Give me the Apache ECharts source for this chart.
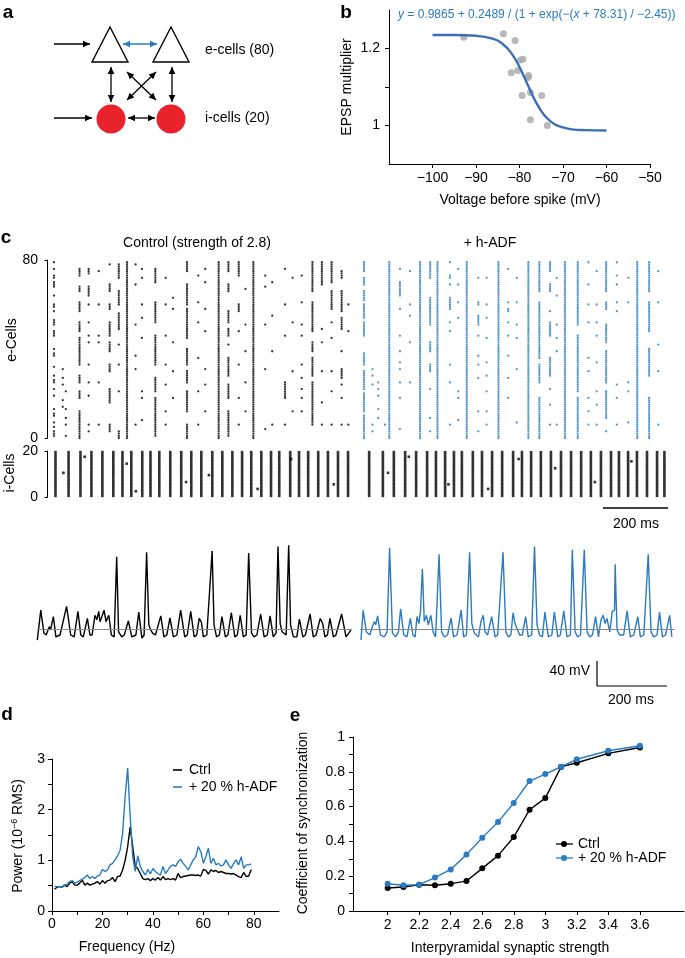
<!DOCTYPE html>
<html>
<head>
<meta charset="utf-8">
<title>h-ADF network figure</title>
<script src="https://cdn.jsdelivr.net/npm/echarts@6/dist/echarts.min.js"></script>
<style>
  html, body { margin: 0; padding: 0; background: #fff; }
  #chart { width: 685px; height: 958px; }
</style>
</head>
<body>
<div id="chart"></div>
<script>
// ---- panel b: EPSP multiplier vs voltage before spike
const bDots = [[-92.8, 1.229], [-83.7, 1.238], [-81.0, 1.221], [-81.9, 1.137], [-80.4, 1.143],
  [-79.8, 1.170], [-79.2, 1.172], [-77.9, 1.130], [-78.0, 1.125], [-79.4, 1.078],
  [-77.5, 1.086], [-74.9, 1.078], [-77.5, 1.015], [-73.6, 1.000]];
const bFitV = [-100, -95, -90, -86, -84, -82, -80, -79, -78, -77, -76, -75, -74, -72, -70, -68, -65, -60];
const bFitY = [1.235, 1.235, 1.233, 1.225, 1.213, 1.190, 1.152, 1.128, 1.103, 1.078, 1.056, 1.038, 1.023, 1.004, 0.995, 0.990, 0.988, 0.987];
const bXTicks = [-100, -90, -80, -70, -60, -50];

// ---- panel c: e-cell raster, [time ms, cells]
const ctrlECells = [
  [21, '1-3,5,7,10,11,13,19,22,25,26,28,32,37,38,40,46-48,51-53,57,59,60,64,68-70,72,73,76,79'],
  [50, '14,17,24,27,31'], [60, '1,6,9,13,21'],
  [105, '0-12,18-21,25-28,33-45,48-52,57-61,66-68,73-76'],
  [135, '3,6,19,25,33,43,46,52,60,64-68,74-76'],
  [168, '6,25,43,46,60,75'],
  [204, '3-6,16-22,30-33,39-43,46-52,58-60,66-69,78'],
  [234, '0-3,21,33,42,49-56,60-66,72-78'],
  [261, '0-79'],
  [289, '6,31,37,51,69,78'], [310, '8,18,21,45,54,60,72,76'],
  [354, '1-18,21-27,33-46,52-61,70-76'],
  [388, '6,12,24,33,46,60,72'], [412, '18,30,43,58,63'],
  [458, '0-6,12-21,25-30,33-40,45-58,60-69,75-79'],
  [495, '6,21,36,52,61,73'], [518, '12,24,31,48,58,70,76'],
  [562, '0-79'],
  [594, '1-12,18-24,28-36,42,46-49,52-57,66-69,75-79'],
  [628, '6,18,33,48,57-60,73-79'], [650, '12,25,39,51,67'],
  [676, '0-79'],
  [715, '4,31,51,68,73'], [738, '6,39,55,70'],
  [780, '6,18-25,46,60,76'], [805, '12,30,52,72'],
  [835, '12,18,22,27,33,46,51,61,73'],
  [870, '6-25,28-36,39-43,48-61,66-79'],
  [901, '6,16,30,43,49,69-79'],
  [933, '6,21,30,45,52,58-66,70-79'],
  [966, '6,18,24,27-31,39,49-54,57-66,72-75'],
  [988, '6,48,60']
];
const adfECells = [
  [13, '0-10,12-20,22-30,33-38,46-52,54-60,62-66,69-72,75-79'],
  [41, '3,6,24,28,31'], [60, '9,13,19,22,25'], [82, '6'],
  [96, '0-79'],
  [131, '4,18,25,31,34,39,46,58,64-70,76'], [164, '25,43,55,60,75'],
  [197, '0-79'],
  [230, '3,9,22,30-33,39-43,51-63,72-79'],
  [254, '0-79'],
  [295, '6,25,33,48,52,58-63,69,72,73,79'], [322, '8,18,21,54,61,69,76'],
  [350, '0-79'],
  [388, '3,12,27,33,37,46,51-55,60,61,72'], [415, '6,12,21,28,34,45,54,60,72'],
  [454, '0-79'],
  [486, '18,27,37,46,52,57,58,61,76'], [514, '7,31,45,51,61,72'],
  [552, '0-79'],
  [588, '0-18,25-33,36-61,66-79'],
  [623, '6,15,22,28-36,46-52,57,66-69,75-79'], [645, '6,39,45,51,64,72'],
  [672, '0-79'],
  [714, '0-18,21-46,51-79'],
  [749, '6,12,18,30,36,52,60,69,79'], [776, '6,15,21,34,46,52,60,75'],
  [807, '3,9-21,25-39,43-51,58-61,66-79'],
  [842, '6,18,24,57,61,69,73,79'], [880, '7,21,25,61,72'],
  [909, '0-79'],
  [948, '0-18,28-40,48-61,66-79'],
  [978, '6,30,42,61,75']
];

// i-cell raster: volley times (all 20 cells) and stray spikes
const iCtrlTimes = [26, 69, 108, 144, 180, 216, 246, 275, 311, 338, 367, 403, 439, 472, 505, 541,
  574, 607, 639, 669, 702, 734, 761, 797, 826, 856, 889, 921, 954, 987];
const iCtrlStray = [[52, 10], [122, 17], [260, 14], [290, 2], [455, 6], [530, 9], [690, 3], [800, 16], [940, 5]];
const iAdfTimes = [30, 75, 111, 148, 184, 220, 249, 279, 308, 334, 370, 400, 433, 466, 502, 531,
  561, 593, 626, 659, 692, 725, 757, 790, 823, 849, 879, 908, 941, 974, 998];
const iAdfStray = [[92, 10], [160, 17], [290, 5], [420, 3], [520, 16], [640, 12], [770, 6], [890, 15]];

// membrane potential traces [ms, mV]
const ctrlTrace = [[1, -77], [12, -30], [22, -66], [29, -69], [39, -56], [43, -61], [52, -40], [60, -72],
  [73, -69], [94, -24], [107, -69], [118, -72], [130, -32], [139, -69], [147, -72], [160, -43], [168, -69],
  [175, -69], [184, -38], [190, -45], [196, -32], [200, -48], [206, -40], [213, -30], [219, -48], [228, -38],
  [236, -69], [245, -72], [253, 54], [259, -64], [269, -72], [277, -69], [290, -47], [301, -72], [314, -69],
  [323, -33], [333, -74], [340, -69], [348, 61], [355, -53], [361, -61], [367, -66], [376, -69], [393, -39],
  [403, -72], [412, -69], [422, -42], [433, -72], [444, -69], [456, -30], [469, -72], [477, -69], [488, -32],
  [499, -72], [507, -69], [515, -43], [522, -49], [528, -72], [539, -69], [556, 63], [562, -53], [570, -72],
  [579, -69], [587, -40], [598, -72], [606, -69], [617, -34], [628, -72], [636, -69], [645, -38], [655, -72],
  [664, -69], [672, 60], [681, -66], [689, -72], [698, -69], [710, -36], [721, -72], [731, -69], [740, -39],
  [750, -72], [759, -66], [765, 70], [772, -51], [778, -64], [791, -69], [799, 72], [805, -53], [814, -72],
  [825, -72], [833, -44], [844, -72], [852, -69], [867, -36], [877, -72], [886, -69], [899, -43], [907, -51],
  [914, -72], [922, -69], [930, -43], [941, -72], [949, -69], [967, -36], [981, -72], [990, -66], [996, -61]];
const adfTrace = [[3, -77], [10, -30], [20, -64], [31, -69], [39, -56], [46, -48], [50, -53], [56, -39],
  [65, -69], [77, -72], [86, -64], [94, 68], [103, -66], [113, -72], [122, -64], [129, -28], [139, -69],
  [149, -72], [160, -43], [168, -69], [175, -72], [181, -40], [187, -51], [192, -32], [198, 35], [204, -48],
  [211, -38], [217, -53], [225, -38], [232, -64], [240, -72], [251, 58], [259, -64], [268, -72], [278, -69],
  [289, -42], [297, -72], [308, -69], [321, -30], [329, -72], [338, -69], [348, 61], [355, -51], [363, -66],
  [376, -72], [384, -48], [391, -38], [397, -64], [405, -69], [418, -40], [429, -72], [437, -69], [454, 61],
  [463, -64], [471, -72], [479, -69], [486, -34], [492, -51], [498, -53], [507, -69], [515, -69], [526, -40],
  [534, -72], [545, -69], [554, 70], [562, -53], [570, -69], [579, -72], [587, -33], [598, -72], [609, -69],
  [617, -33], [628, -72], [636, -69], [647, -31], [657, -72], [668, -69], [674, 65], [683, -64], [691, -72],
  [700, -69], [712, 65], [721, -64], [729, -72], [738, -69], [748, -40], [757, -72], [765, -45], [772, -38],
  [778, -51], [784, -43], [793, -64], [801, -32], [808, -30], [810, 42], [816, -61], [824, -69], [837, -69],
  [848, -31], [858, -72], [869, -69], [882, -40], [890, -72], [901, -69], [915, 58], [924, -64], [932, -72],
  [943, -69], [951, -33], [960, -72], [970, -69], [983, -38], [990, -72]];

// ---- panel d: power spectra, 1..79 Hz
const dFreq = [1, 2, 3, 4, 5, 6, 7, 8, 9, 10, 11, 12, 13, 14, 15, 16, 17, 18, 19, 20, 21, 22, 23, 24, 25, 26,
  27, 28, 29, 30, 31, 32, 33, 34, 35, 36, 37, 38, 39, 40, 41, 42, 43, 44, 45, 46, 47, 48, 49, 50, 51, 52, 53,
  54, 55, 56, 57, 58, 59, 60, 61, 62, 63, 64, 65, 66, 67, 68, 69, 70, 71, 72, 73, 74, 75, 76, 77, 78, 79];
const dCtrl = [0.43, 0.47, 0.48, 0.47, 0.51, 0.48, 0.55, 0.58, 0.51, 0.51, 0.55, 0.61, 0.51, 0.55, 0.51, 0.53,
  0.55, 0.58, 0.53, 0.60, 0.55, 0.60, 0.61, 0.66, 0.58, 0.68, 0.69, 0.81, 1.00, 1.27, 1.66, 1.27, 0.88, 0.84,
  0.74, 0.64, 0.62, 0.64, 0.60, 0.64, 0.61, 0.66, 0.61, 0.68, 0.62, 0.64, 0.62, 0.64, 0.61, 0.74, 0.66, 0.68,
  0.69, 0.70, 0.71, 0.71, 0.70, 0.71, 0.69, 0.82, 0.80, 0.73, 0.81, 0.78, 0.80, 0.76, 0.78, 0.76, 0.74, 0.74,
  0.73, 0.74, 0.71, 0.68, 0.66, 0.76, 0.68, 0.69, 0.82];
const dAdf = [0.49, 0.48, 0.48, 0.48, 0.51, 0.53, 0.58, 0.60, 0.55, 0.57, 0.60, 0.63, 0.66, 0.71, 0.64, 0.68,
  0.64, 0.69, 0.71, 0.82, 0.78, 0.81, 0.91, 0.94, 1.01, 1.09, 1.20, 1.53, 2.26, 2.82, 1.86, 1.07, 0.78, 1.09,
  0.88, 0.78, 0.71, 0.82, 0.73, 0.84, 0.78, 0.74, 0.71, 0.88, 0.74, 0.81, 0.88, 0.91, 0.88, 0.97, 1.02, 0.94,
  0.88, 0.81, 0.91, 1.01, 1.07, 1.27, 1.17, 0.94, 1.07, 1.24, 0.94, 1.04, 0.91, 0.94, 0.89, 0.91, 1.01, 0.91,
  0.84, 0.94, 1.01, 0.91, 1.07, 0.84, 0.91, 0.91, 0.93];

// ---- panel e: synchronization vs synaptic strength
const eStrength = [2, 2.1, 2.2, 2.3, 2.4, 2.5, 2.6, 2.7, 2.8, 2.9, 3, 3.1, 3.2, 3.4, 3.6];
const eCtrl = [0.132, 0.138, 0.151, 0.148, 0.157, 0.172, 0.245, 0.318, 0.425, 0.582, 0.649, 0.828, 0.852, 0.906, 0.940];
const eAdf = [0.157, 0.148, 0.151, 0.192, 0.239, 0.324, 0.421, 0.511, 0.621, 0.747, 0.787, 0.829, 0.872, 0.921, 0.950];
const eCtrlErr = [0.005, 0.005, 0.004, 0.004, 0.005, 0.006, 0.008, 0.012, 0.010, 0.012, 0.012, 0.006, 0.005, 0.005, 0.004];
const eAdfErr = [0.005, 0.005, 0.004, 0.006, 0.008, 0.012, 0.014, 0.014, 0.014, 0.008, 0.006, 0.006, 0.006, 0.005, 0.005];
const eXTicks = [2, 2.2, 2.4, 2.6, 2.8, 3, 3.2, 3.4, 3.6];

const BLUE = '#2a7bbf';
const FONT = "'Liberation Sans', Arial, sans-serif";

function expandCols(cols) {
  const pts = [];
  cols.forEach(([t, spec]) => {
    spec.split(',').forEach(part => {
      const ab = part.split('-').map(Number);
      const lo = Math.min(ab[0], ab[ab.length - 1]);
      const hi = Math.max(ab[0], ab[ab.length - 1]);
      for (let c = lo; c <= hi; c++) pts.push([t, c]);
    });
  });
  return pts;
}
function volleys(times, stray) {
  const pts = [];
  times.forEach(t => { for (let c = 0; c < 20; c++) pts.push([t, c + 0.5]); });
  stray.forEach(([t, c]) => pts.push([t, c + 0.5]));
  return pts;
}
const zip = (a, b) => a.map((v, i) => [v, b[i]]);
const minus = v => (v < 0 ? '\u2212' + Math.abs(v) : String(v));

function txt(x, y, s, o) {
  o = o || {};
  return {
    type: 'text', x: x, y: y, rotation: o.rot || 0, silent: true,
    style: {
      text: s, fill: o.color || '#000', fontSize: o.size || 14, fontFamily: FONT,
      fontWeight: o.bold ? 'bold' : 'normal', align: o.align || 'center', verticalAlign: 'middle',
      rich: o.rich
    }
  };
}
function seg(x1, y1, x2, y2, color, w) {
  return { type: 'line', silent: true, shape: { x1, y1, x2, y2 }, style: { stroke: color || '#000', lineWidth: w || 1.3 } };
}
// arrow for the circuit sketch
function arrow(x1, y1, x2, y2, color, both) {
  const a = Math.atan2(y2 - y1, x2 - x1), hl = 7, hw = 3.3;
  const head = (x, y, ang) => ({
    type: 'polygon', silent: true,
    shape: { points: [[x, y],
      [x - hl * Math.cos(ang) + hw * Math.sin(ang), y - hl * Math.sin(ang) - hw * Math.cos(ang)],
      [x - hl * Math.cos(ang) - hw * Math.sin(ang), y - hl * Math.sin(ang) + hw * Math.cos(ang)]] },
    style: { fill: color }
  });
  const els = [seg(x1, y1, x2, y2, color, 1.3), head(x2, y2, a)];
  if (both) els.push(head(x1, y1, a + Math.PI));
  return els;
}

const graphics = [].concat(
  // panel letters
  txt(8, 13, 'a', { size: 19, bold: true }),
  txt(346, 13, 'b', { size: 19, bold: true }),
  txt(6, 238, 'c', { size: 19, bold: true }),
  txt(7, 715, 'd', { size: 19, bold: true }),
  txt(295, 716, 'e', { size: 19, bold: true }),
  // panel a sketch
  { type: 'polygon', silent: true, shape: { points: [[110, 27], [92, 62], [128, 62]] }, style: { fill: '#fff', stroke: '#000', lineWidth: 1.4 } },
  { type: 'polygon', silent: true, shape: { points: [[171, 27], [153, 62], [189, 62]] }, style: { fill: '#fff', stroke: '#000', lineWidth: 1.4 } },
  { type: 'circle', silent: true, shape: { cx: 111, cy: 119, r: 14.5 }, style: { fill: '#e8232b' } },
  { type: 'circle', silent: true, shape: { cx: 171, cy: 119, r: 14.5 }, style: { fill: '#e8232b' } },
  arrow(54, 44, 90, 44, '#000'),
  arrow(123, 44, 157, 44, BLUE, true),
  arrow(54, 118, 92, 118, '#000'),
  arrow(128, 118, 155, 118, '#000', true),
  arrow(111, 67, 111, 102, '#000', true),
  arrow(172, 67, 172, 102, '#000', true),
  arrow(127, 100, 156, 72, '#000', true),
  arrow(127, 72, 156, 100, '#000', true),
  txt(205, 50, 'e-cells (80)', { align: 'left' }),
  txt(205, 118, 'i-cells (20)', { align: 'left' }),
  // panel b texts
  txt(398, 15, '{i|y} = 0.9865 + 0.2489 / (1 + exp(\u2212({i|x} + 78.31) / \u22122.45))',
    { align: 'left', size: 12, color: BLUE, rich: { i: { fontStyle: 'italic', fontSize: 12, fill: BLUE, fontFamily: FONT } } }),
  txt(347, 87, 'EPSP multiplier', { rot: Math.PI / 2 }),
  txt(520, 200, 'Voltage before spike (mV)'),
  // panel c texts
  txt(197, 243, 'Control (strength of 2.8)'),
  txt(490, 243, '+ h-ADF'),
  txt(12, 340, 'e-Cells', { rot: Math.PI / 2 }),
  txt(10, 473, 'i-Cells', { rot: Math.PI / 2 }),
  seg(603, 508, 668, 508, '#000', 1.5),
  txt(636, 524, '200 ms'),
  seg(597, 661, 597, 686, '#000', 1.2),
  seg(597, 686, 667, 686, '#000', 1.2),
  txt(590, 671, '40 mV', { align: 'right' }),
  txt(631, 700, '200 ms'),
  // panel d texts + legend
  txt(18, 836, 'Power (10{s|\u22126} RMS)', { rot: Math.PI / 2, rich: { s: { fontSize: 9, verticalAlign: 'bottom', padding: [0, 0, 6, 0], fontFamily: FONT } } }),
  txt(127, 947, 'Frequency (Hz)'),
  seg(173, 770, 182, 770, '#000', 1.6),
  txt(189, 770, 'Ctrl', { align: 'left' }),
  seg(173, 787, 182, 787, BLUE, 1.6),
  txt(189, 787, '+ 20 % h-ADF', { align: 'left' }),
  // panel e texts + legend
  txt(303, 823, 'Coefficient of synchronization', { rot: Math.PI / 2 }),
  txt(510, 948, 'Interpyramidal synaptic strength'),
  seg(556, 844, 573, 844, '#000', 1.3),
  { type: 'circle', silent: true, shape: { cx: 564, cy: 844, r: 3 }, style: { fill: '#000' } },
  txt(578, 844, 'Ctrl', { align: 'left' }),
  seg(556, 858, 573, 858, BLUE, 1.3),
  { type: 'circle', silent: true, shape: { cx: 564, cy: 858, r: 3 }, style: { fill: BLUE } },
  txt(578, 858, '+ 20 % h-ADF', { align: 'left' })
);

const axLine = { show: true, lineStyle: { color: '#000', width: 1 } };
const axTick = { show: true, length: 4, lineStyle: { color: '#000', width: 1 } };
const axLabel = { color: '#000', fontSize: 14, fontFamily: FONT };
const hidden = (gi, min, max) => ({ gridIndex: gi, type: 'value', min: min, max: max, show: false });

const chart = echarts.init(document.getElementById('chart'), null, { renderer: 'canvas' });
chart.setOption({
  animation: false,
  backgroundColor: '#fff',
  grid: [
    { left: 389, top: 10, width: 261, height: 154 },   // b
    { left: 43, top: 260, width: 309, height: 178 },   // e-cells ctrl
    { left: 360, top: 260, width: 305, height: 178 },  // e-cells h-ADF
    { left: 43, top: 451, width: 309, height: 46 },    // i-cells ctrl
    { left: 360, top: 451, width: 305, height: 46 },   // i-cells h-ADF
    { left: 37, top: 537, width: 315, height: 105 },   // trace ctrl
    { left: 360, top: 537, width: 315, height: 105 },  // trace h-ADF
    { left: 52, top: 759, width: 227, height: 152 },   // d
    { left: 353, top: 737, width: 331, height: 174 }   // e
  ],
  xAxis: [
    { gridIndex: 0, type: 'value', min: -110, max: -50, splitLine: { show: false }, axisLine: axLine,
      axisTick: Object.assign({}, axTick, { customValues: bXTicks }),
      axisLabel: Object.assign({}, axLabel, { margin: 7, customValues: bXTicks, formatter: minus }) },
    hidden(1, -15, 1000), hidden(2, 0, 1000), hidden(3, -15, 1000), hidden(4, 0, 1000),
    hidden(5, 0, 1000), hidden(6, 0, 1000),
    { gridIndex: 7, type: 'value', min: 0, max: 90, interval: 10, splitLine: { show: false }, axisLine: axLine, axisTick: axTick,
      axisLabel: Object.assign({}, axLabel, { margin: 6, showMaxLabel: false, formatter: v => (v % 20 === 0 ? String(v) : '') }) },
    { gridIndex: 8, type: 'value', min: 1.78, max: 3.88, splitLine: { show: false }, axisLine: axLine,
      axisTick: Object.assign({}, axTick, { customValues: eXTicks }),
      axisLabel: Object.assign({}, axLabel, { margin: 7, customValues: eXTicks }) }
  ],
  yAxis: [
    { gridIndex: 0, type: 'value', min: 0.9, max: 1.3, splitLine: { show: false }, axisLine: axLine,
      axisTick: Object.assign({}, axTick, { customValues: [1, 1.1, 1.2] }),
      axisLabel: Object.assign({}, axLabel, { margin: 9, customValues: [1, 1.2] }) },
    { gridIndex: 1, type: 'value', min: 0, max: 80, interval: 80, splitLine: { show: false }, axisLine: axLine,
      axisTick: Object.assign({}, axTick, { length: 3 }), axisLabel: Object.assign({}, axLabel, { margin: 5 }) },
    hidden(2, 0, 80),
    { gridIndex: 3, type: 'value', min: 0, max: 20, interval: 20, splitLine: { show: false }, axisLine: axLine,
      axisTick: Object.assign({}, axTick, { length: 3 }), axisLabel: Object.assign({}, axLabel, { margin: 5 }) },
    hidden(4, 0, 20), hidden(5, -80, 85), hidden(6, -80, 85),
    { gridIndex: 7, type: 'value', min: 0, max: 3, interval: 0.5, splitLine: { show: false }, axisLine: axLine, axisTick: axTick,
      axisLabel: Object.assign({}, axLabel, { margin: 7, formatter: v => (v % 1 === 0 ? String(v) : '') }) },
    { gridIndex: 8, type: 'value', min: 0, max: 1, interval: 0.1, splitLine: { show: false }, axisLine: axLine, axisTick: axTick,
      axisLabel: Object.assign({}, axLabel, { margin: 8, formatter: v => (Math.round(v * 10) % 2 === 0 ? String(+v.toFixed(1)) : '') }) }
  ],
  series: [
    { type: 'scatter', xAxisIndex: 0, yAxisIndex: 0, data: bDots, symbolSize: 7, itemStyle: { color: '#a8a8a8' }, silent: true },
    { type: 'line', xAxisIndex: 0, yAxisIndex: 0, data: zip(bFitV, bFitY), smooth: true, showSymbol: false,
      lineStyle: { color: '#3e6fb4', width: 2.4 }, silent: true },
    { type: 'scatter', xAxisIndex: 1, yAxisIndex: 1, data: expandCols(ctrlECells), symbol: 'circle', symbolSize: 2.3,
      itemStyle: { color: '#000' }, silent: true },
    { type: 'scatter', xAxisIndex: 2, yAxisIndex: 2, data: expandCols(adfECells), symbol: 'circle', symbolSize: 2.3,
      itemStyle: { color: BLUE }, silent: true },
    { type: 'scatter', xAxisIndex: 3, yAxisIndex: 3, data: volleys(iCtrlTimes, iCtrlStray), symbol: 'rect', symbolSize: [2.6, 2.6],
      itemStyle: { color: '#000' }, silent: true },
    { type: 'scatter', xAxisIndex: 4, yAxisIndex: 4, data: volleys(iAdfTimes, iAdfStray), symbol: 'rect', symbolSize: [2.6, 2.6],
      itemStyle: { color: '#000' }, silent: true },
    { type: 'line', xAxisIndex: 5, yAxisIndex: 5, data: ctrlTrace, showSymbol: false, lineStyle: { color: '#000', width: 1.4 }, silent: true,
      markLine: { silent: true, symbol: 'none', label: { show: false }, lineStyle: { color: '#8a8a8a', width: 1, type: 'solid' }, data: [{ yAxis: -60 }] } },
    { type: 'line', xAxisIndex: 6, yAxisIndex: 6, data: adfTrace, showSymbol: false, lineStyle: { color: BLUE, width: 1.4 }, silent: true,
      markLine: { silent: true, symbol: 'none', label: { show: false }, lineStyle: { color: '#8a8a8a', width: 1, type: 'solid' }, data: [{ yAxis: -60 }] } },
    { type: 'line', xAxisIndex: 7, yAxisIndex: 7, data: zip(dFreq, dCtrl), showSymbol: false, lineStyle: { color: '#000', width: 1.4 }, silent: true },
    { type: 'line', xAxisIndex: 7, yAxisIndex: 7, data: zip(dFreq, dAdf), showSymbol: false, lineStyle: { color: BLUE, width: 1.4 }, silent: true },
    { type: 'line', xAxisIndex: 8, yAxisIndex: 8, data: zip(eStrength, eCtrl), symbol: 'circle', symbolSize: 6,
      lineStyle: { color: '#000', width: 1.4 }, itemStyle: { color: '#000' }, silent: true },
    { type: 'line', xAxisIndex: 8, yAxisIndex: 8, data: zip(eStrength, eAdf), symbol: 'circle', symbolSize: 6,
      lineStyle: { color: BLUE, width: 1.4 }, itemStyle: { color: BLUE }, silent: true },
    { type: 'custom', xAxisIndex: 8, yAxisIndex: 8, silent: true,
      data: eStrength.map((x, i) => [x, eAdf[i], eAdfErr[i], eCtrl[i], eCtrlErr[i]]),
      renderItem: function (params, api) {
        const x = api.value(0);
        const bar = (y, e, c) => {
          const p1 = api.coord([x, y - e]), p2 = api.coord([x, y + e]);
          return { type: 'line', shape: { x1: p1[0], y1: p1[1], x2: p2[0], y2: p2[1] }, style: { stroke: c, lineWidth: 1.2 } };
        };
        return { type: 'group', children: [bar(api.value(1), api.value(2), BLUE), bar(api.value(3), api.value(4), '#000')] };
      } }
  ],
  graphic: graphics
});
</script>
</body>
</html>
